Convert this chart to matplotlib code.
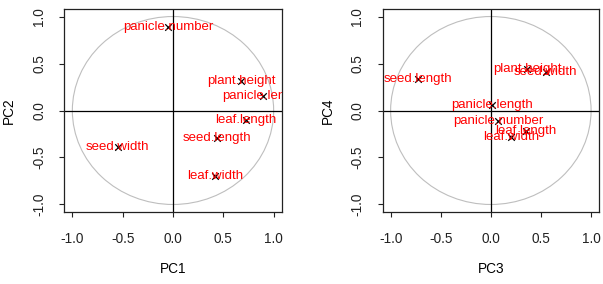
import matplotlib
matplotlib.use("Agg")
import matplotlib.pyplot as plt
import numpy as np
from matplotlib.patches import Ellipse

plt.rcParams['font.family'] = ['Liberation Sans', 'DejaVu Sans']

# PC1 / PC2 loadings
vars12 = ["panicle.number", "plant.height", "panicle.length", "leaf.length",
          "seed.length", "seed.width", "leaf.width"]
pc1 = [-0.045, 0.675, 0.89, 0.725, 0.436, -0.549, 0.42]
pc2 = [0.887, 0.313, 0.15, -0.104, -0.292, -0.391, -0.696]

# PC3 / PC4 loadings
vars34 = ["seed.length", "plant.height", "seed.width", "panicle.length",
          "panicle.number", "leaf.length", "leaf.width"]
pc3 = [-0.725, 0.363, 0.546, 0.015, 0.071, 0.353, 0.198]
pc4 = [0.331, 0.444, 0.405, 0.062, -0.11, -0.218, -0.28]

ticks = [-1.0, -0.5, 0.0, 0.5, 1.0]
tick_labels = ["-1.0", "-0.5", "0.0", "0.5", "1.0"]

W, H = 603, 284
fig = plt.figure(figsize=(W / 100, H / 100), dpi=100)

FS = 9.5

def panel(rect, xs, ys, names, xlabel, ylabel):
    ax = fig.add_axes(rect)
    ax.set_xlim(-1.08, 1.08)
    ax.set_ylim(-1.08, 1.08)
    ax.add_patch(Ellipse((0, 0), 2, 2, fill=False, edgecolor="#BEBEBE", lw=0.8))
    ax.axhline(0, color="black", lw=0.9)
    ax.axvline(0, color="black", lw=0.9)
    ax.scatter(xs, ys, marker="x", color="black", s=22, lw=0.9, zorder=3)
    for x, y, n in zip(xs, ys, names):
        ax.text(x, y, n, color="#FF0000", fontsize=FS, ha="center", va="center",
                clip_on=True, zorder=4)
    ax.set_xticks(ticks)
    ax.set_xticklabels(tick_labels)
    ax.set_yticks(ticks)
    ax.set_yticklabels(tick_labels, rotation=90, va="center")
    ax.tick_params(axis="both", direction="out", length=3.6, width=0.8,
                   labelsize=FS + 0.3, colors="#222222")
    ax.tick_params(axis="x", pad=11)
    ax.tick_params(axis="y", pad=9.5)
    for s in ax.spines.values():
        s.set_linewidth(0.9)
        s.set_color("#222222")
    ax.set_xlabel(xlabel, fontsize=FS + 0.3, labelpad=11.5)
    ax.set_ylabel(ylabel, fontsize=FS + 0.3, labelpad=11.5)
    return ax

panel([64.3 / W, 1 - 212 / H, 217.4 / W, 203 / H], pc1, pc2, vars12, "PC1", "PC2")
panel([382.6 / W, 1 - 212 / H, 216.5 / W, 203 / H], pc3, pc4, vars34, "PC3", "PC4")

fig.savefig("out.png", dpi=100, facecolor="white")
